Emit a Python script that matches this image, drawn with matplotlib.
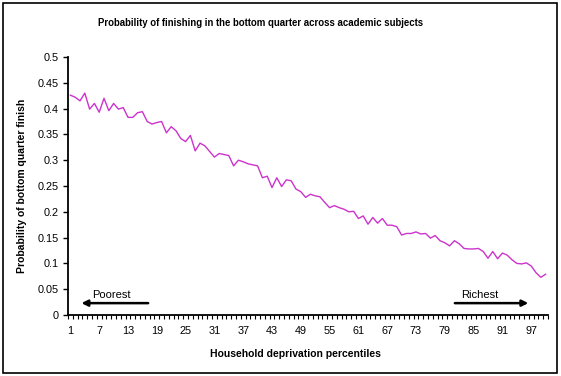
import matplotlib
matplotlib.use("Agg")
import matplotlib.pyplot as plt
from matplotlib.patches import Rectangle
import numpy as np

percentiles = list(range(1, 101))
probability = [
    0.426, 0.422, 0.415, 0.430, 0.399, 0.410, 0.393, 0.420, 0.396, 0.410,
    0.399, 0.402, 0.383, 0.383, 0.392, 0.394, 0.375, 0.370, 0.373, 0.375,
    0.353, 0.365, 0.357, 0.342, 0.336, 0.348, 0.318, 0.333, 0.328, 0.317,
    0.306, 0.313, 0.311, 0.309, 0.289, 0.300, 0.297, 0.293, 0.291, 0.289,
    0.266, 0.269, 0.247, 0.266, 0.249, 0.262, 0.260, 0.244, 0.239, 0.228,
    0.234, 0.231, 0.229, 0.218, 0.208, 0.212, 0.208, 0.205, 0.200, 0.201,
    0.187, 0.192, 0.176, 0.189, 0.178, 0.187, 0.174, 0.174, 0.171, 0.155,
    0.158, 0.158, 0.161, 0.157, 0.158, 0.149, 0.154, 0.144, 0.140, 0.134,
    0.144, 0.138, 0.129, 0.128, 0.128, 0.129, 0.123, 0.110, 0.123, 0.109,
    0.120, 0.116, 0.107, 0.100, 0.099, 0.101, 0.095, 0.082, 0.073, 0.079,
]
xtick_labels = [str(v) for v in range(1, 101, 6)]
yticks = [0, 0.05, 0.1, 0.15, 0.2, 0.25, 0.3, 0.35, 0.4, 0.45, 0.5]
ytick_labels = ["0", "0.05", "0.1", "0.15", "0.2", "0.25", "0.3", "0.35", "0.4", "0.45", "0.5"]

plt.rcParams['font.family'] = ['Liberation Sans', 'DejaVu Sans']

W, H = 561, 376
fig = plt.figure(figsize=(W / 100, H / 100), dpi=100)
fig.patches.append(Rectangle((3 / W, 3 / H), 554 / W, 370 / H, transform=fig.transFigure,
                             fill=False, edgecolor='black', linewidth=1.2))

ax = fig.add_axes([68 / W, (H - 315) / H, 480 / W, 258 / H])
ax.plot(percentiles, probability, color='#CC33CC', linewidth=1.0)

ax.set_xlim(0.5, 100.5)
ax.set_ylim(0, 0.5)
ax.set_xticks(range(1, 101, 6))
ax.set_xticklabels(xtick_labels, fontsize=7.8)
ax.set_xticks(np.arange(0.5, 101, 1), minor=True)
ax.tick_params(axis='x', which='major', length=0, pad=8)
ax.tick_params(axis='x', which='minor', length=3, width=0.8, direction='out')
ax.set_yticks(yticks)
ax.set_yticklabels(ytick_labels, fontsize=7.8)
ax.tick_params(axis='y', length=3.5, width=1.0, direction='out', pad=3)

for s in ['top', 'right']:
    ax.spines[s].set_visible(False)
for s in ['left', 'bottom']:
    ax.spines[s].set_linewidth(1.3)

ax.set_xlabel('Household deprivation percentiles', fontsize=7.5, fontweight='bold')
ax.xaxis.set_label_coords((295 - 68) / 480, (315 - 354) / 258)
ax.xaxis.label.set_va('center')
ax.set_ylabel('Probability of bottom quarter finish', fontsize=7.5, fontweight='bold', labelpad=8)
fig.text(261 / W, (H - 23) / H, 'Probability of finishing in the bottom quarter across academic subjects',
         ha='center', va='center', fontsize=6.9, fontweight='bold')

arrow = dict(arrowstyle='-|>', lw=1.8, color='black', mutation_scale=9, shrinkA=0, shrinkB=0)
ax.annotate('', xy=(3.3, 0.023), xytext=(17.2, 0.023), arrowprops=arrow)
ax.annotate('', xy=(96.4, 0.023), xytext=(81.1, 0.023), arrowprops=arrow)
ax.text(5.6, 0.029, 'Poorest', fontsize=8, ha='left', va='bottom')
ax.text(82.4, 0.029, 'Richest', fontsize=8, ha='left', va='bottom')

fig.savefig('out.png', dpi=100)
